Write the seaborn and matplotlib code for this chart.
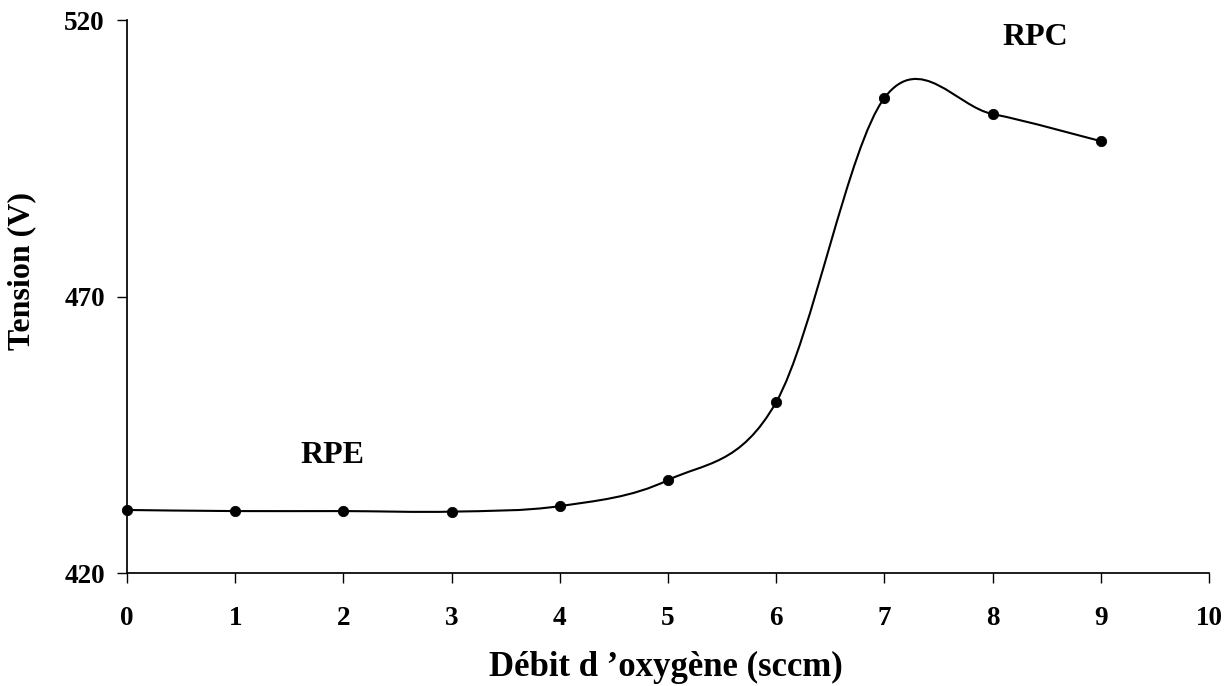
import numpy as np
import matplotlib
matplotlib.use("Agg")
import matplotlib.pyplot as plt
from matplotlib.path import Path
from matplotlib.patches import PathPatch
import seaborn as sns

# debit d'oxygene (sccm) et tension (V)
debit = [0, 1, 2, 3, 4, 5, 6, 7, 8, 9]
tension = [431.4, 431.2, 431.2, 431.1, 432.1, 436.8, 450.9, 505.9, 503.0, 498.1]

sns.set_theme(style="ticks")
plt.rcParams['font.family'] = ['Liberation Serif', 'DejaVu Serif']
plt.rcParams['font.weight'] = 'bold'
plt.rcParams['text.color'] = 'black'
plt.rcParams['axes.labelcolor'] = 'black'
plt.rcParams['xtick.color'] = 'black'
plt.rcParams['ytick.color'] = 'black'

fig = plt.figure(figsize=(12.28, 6.86), dpi=100)
ax = fig.add_axes([0.1034, 0.1647, 0.8811, 0.8061])

# courbe lissee facon Excel (bezier cubique)
x = np.array(debit, dtype=float)
y = np.array(tension, dtype=float)
n = len(x)
verts = [(x[0], y[0])]
codes = [Path.MOVETO]
for i in range(n - 1):
    p0 = i - 1 if i > 0 else i
    p3 = i + 2 if i + 2 < n else i + 1
    c1 = (x[i] + (x[i + 1] - x[p0]) / 6, y[i] + (y[i + 1] - y[p0]) / 6)
    c2 = (x[i + 1] - (x[p3] - x[i]) / 6, y[i + 1] - (y[p3] - y[i]) / 6)
    verts += [c1, c2, (x[i + 1], y[i + 1])]
    codes += [Path.CURVE4] * 3
ax.add_patch(PathPatch(Path(verts, codes), facecolor='none', edgecolor='black', lw=1.5))

sns.scatterplot(x=debit, y=tension, ax=ax, color='black', s=55, edgecolor='black',
                zorder=3, clip_on=False)

ax.set_xlim(0, 10)
ax.set_ylim(420, 520)
ax.set_xticks(range(0, 11))
ax.set_yticks([420, 470, 520])
sns.despine(ax=ax)
ax.spines['left'].set_color('black')
ax.spines['bottom'].set_color('black')
ax.tick_params(axis='both', direction='out', length=7, width=1, labelsize=19.5)
ax.tick_params(axis='x', pad=17)
ax.tick_params(axis='y', pad=9)
for lab in ax.get_xticklabels() + ax.get_yticklabels():
    lab.set_fontweight('bold')

ax.set_xlabel("Débit d \u2019oxygène (sccm)", fontsize=25, fontweight='bold', va='center')
ax.xaxis.set_label_coords(0.498, -0.170)
ax.set_ylabel("Tension (V)", fontsize=23, fontweight='bold', va='center')
ax.yaxis.set_label_coords(-0.097, 0.546)

ax.text(1.9, 441.3, "RPE", fontsize=23, fontweight='bold', ha='center', va='center')
ax.text(8.39, 516.9, "RPC", fontsize=23, fontweight='bold', ha='center', va='center')

fig.savefig("out.png", dpi=100)
